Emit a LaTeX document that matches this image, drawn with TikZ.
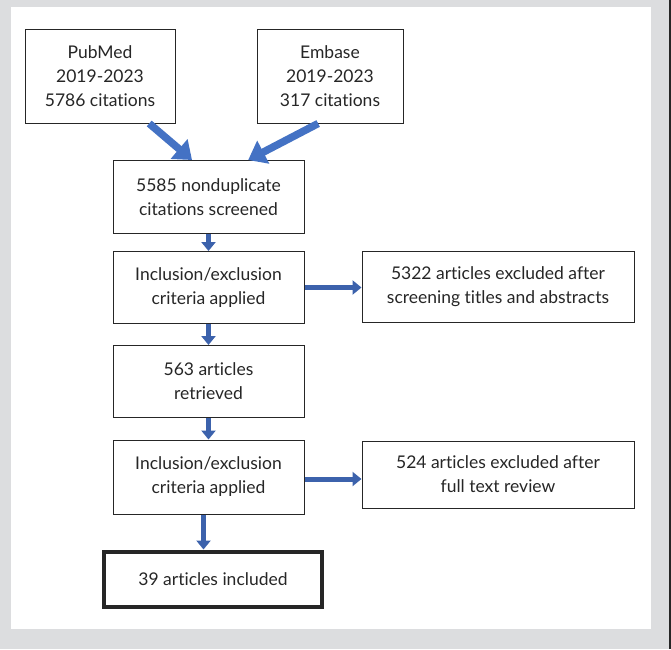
\documentclass[tikz,border=0pt]{standalone}
\usepackage{fontspec}
\setmainfont{Lato}[Ligatures=NoCommon]
\usetikzlibrary{arrows.meta}
\definecolor{pagegray}{RGB}{220,221,223}
\definecolor{arrowblue}{RGB}{68,114,196}
\definecolor{flowblue}{RGB}{60,98,172}
\tikzset{
  box/.style={draw=black!85,line width=1pt,fill=white,align=center,inner sep=0pt,
    text=black!85,font=\fontsize{17.5}{24}\selectfont},
  fatarrow/.style={draw=arrowblue,line width=7.5pt,line cap=butt,
    -{Triangle[length=17pt,width=25pt]}},
  flowarrow/.style={draw=flowblue,line width=5pt,line cap=butt,
    -{Triangle[length=9pt,width=14pt]}}
}
\begin{document}
\begin{tikzpicture}[line join=miter,x=1pt,y=-1pt]
		\fill[pagegray] (0,0) rectangle (671,649);
		\fill[white] (11,7) rectangle (651,629);
		\fill[black!85] (669,0) rectangle (671,649);
		\useasboundingbox (0,0) rectangle (671,649);
		% sources
		\node[box,minimum width=150pt,minimum height=94pt] (pubmed) at (100,76) {PubMed\\2019-2023\\5786 citations};
		\node[box,minimum width=146pt,minimum height=94pt] (embase) at (330,76) {Embase\\2019-2023\\317 citations};
		% main column
		\node[box,minimum width=191pt,minimum height=73pt] (screened) at (208.5,197) {5585 nonduplicate\\citations screened};
		\node[box,minimum width=191pt,minimum height=72pt] (crit1) at (208.5,287.5) {Inclusion/exclusion\\criteria applied};
		\node[box,minimum width=191pt,minimum height=72pt] (retrieved) at (208.5,381.5) {563 articles\\retrieved};
		\node[box,minimum width=191pt,minimum height=74pt] (crit2) at (208.5,477) {Inclusion/exclusion\\criteria applied};
		\node[box,line width=4pt,minimum width=218pt,minimum height=55pt] (included) at (213,579) {39 articles included};
		% exclusions
		\node[box,minimum width=272pt,minimum height=71pt] (excl1) at (498,286.5) {5322 articles excluded after\\screening titles and abstracts};
		\node[box,minimum width=272pt,minimum height=67pt] (excl2) at (498,474.5) {524 articles excluded after\\full text review};
		% arrows
		\draw[fatarrow] (pubmed.-44) -- (screened.114);
		\draw[fatarrow] (embase.-104) -- (screened.43);
		\draw[flowarrow] (screened.south) -- (crit1.north);
		\draw[flowarrow] (crit1.south) -- (retrieved.north);
		\draw[flowarrow] (retrieved.south) -- (crit2.north);
		\draw[flowarrow] ([xshift=-5pt]crit2.south) -- ([xshift=-5pt]crit2.south |- included.north);
		\draw[flowarrow] (crit1.east) -- (crit1.east -| excl1.west);
		\draw[flowarrow] ([yshift=-2pt]crit2.east) -- ([yshift=-2pt]crit2.east -| excl2.west);
	\end{tikzpicture}
\end{document}
